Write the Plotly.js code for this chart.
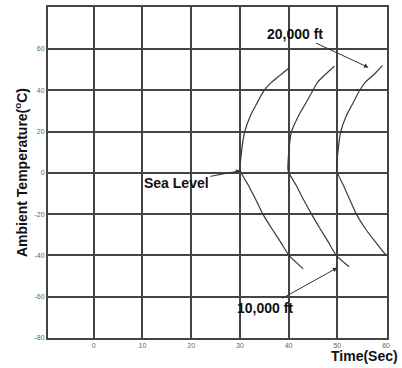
<!DOCTYPE html>
<html>
<head>
<meta charset="utf-8">
<script src="https://cdn.plot.ly/plotly-3.0.1.min.js"></script>
<style>html,body{margin:0;padding:0;background:#fff}#chart{width:402px;height:368px}</style>
</head>
<body>
<div id="chart"></div>
<script>
// Sea level curve
const seaLevelTime = [40.1, 38.2, 36.2, 35.0, 33.3, 32.2, 31.0, 30.4, 30.1, 31.8, 33.2, 34.7, 36.6, 38.4, 40.1, 43.0];
const seaLevelTemp = [50.8, 47.2, 43.2, 40, 32.8, 27.9, 20, 11.6, 1, -6.3, -12.7, -20, -27.2, -33.7, -40, -46.5];
// 10,000 ft curve
const ft10kTime = [49.4, 47.7, 46.0, 45.0, 43.3, 42.1, 40.6, 40.1, 39.9, 41.6, 43.0, 44.7, 46.5, 48.2, 49.8, 52.4];
const ft10kTemp = [51.6, 48, 44, 40, 32.8, 27.9, 20, 11.6, 1, -6.3, -12.7, -20, -27.2, -33.7, -40, -45.5];
// 20,000 ft curve
const ft20kTime = [59.3, 57.7, 55.8, 54.6, 53.0, 51.9, 50.7, 50.2, 49.9, 51.3, 52.5, 53.9, 55.8, 57.9, 60.1, 60.9];
const ft20kTemp = [52, 48, 44, 40, 32.8, 27.9, 20, 11.6, 1, -6.3, -12.7, -20, -27.2, -33.7, -40, -41];

const xTicks = [0, 10, 20, 30, 40, 50, 60];
const yTicks = [-80, -60, -40, -20, 0, 20, 40, 60];

const lineStyle = {color: '#3a3a3a', width: 1.2, shape: 'spline', smoothing: 0.6};
const traces = [
  {x: seaLevelTime, y: seaLevelTemp, mode: 'lines', line: lineStyle, name: 'Sea Level', hoverinfo: 'skip'},
  {x: ft10kTime, y: ft10kTemp, mode: 'lines', line: lineStyle, name: '10,000 ft', hoverinfo: 'skip'},
  {x: ft20kTime, y: ft20kTemp, mode: 'lines', line: lineStyle, name: '20,000 ft', hoverinfo: 'skip'}
];

const labelFont = {family: 'Liberation Sans, Arial, sans-serif', size: 14, color: '#111'};
const arrowBase = {showarrow: true, arrowhead: 2, arrowsize: 0.9, arrowwidth: 1, arrowcolor: '#333', xref: 'x', yref: 'y', font: labelFont};

const layout = {
  width: 402, height: 368,
  margin: {l: 48, r: 15, t: 7, b: 30},
  paper_bgcolor: '#fff', plot_bgcolor: '#fff',
  showlegend: false,
  font: {family: 'Liberation Sans, Arial, sans-serif'},
  xaxis: {
    range: [-9.4, 60.2],
    tickvals: xTicks, ticktext: xTicks.map(String),
    showgrid: true, gridcolor: '#444', gridwidth: 2,
    zeroline: false,
    showline: true, mirror: true, linecolor: '#444', linewidth: 2,
    ticks: '', tickfont: {size: 7, color: '#666'},
    fixedrange: true
  },
  yaxis: {
    range: [-80, 80.3],
    tickvals: yTicks, ticktext: yTicks.map(String),
    showgrid: true, gridcolor: '#444', gridwidth: 2,
    zeroline: false,
    showline: true, mirror: true, linecolor: '#444', linewidth: 2,
    ticks: '', tickfont: {size: 7, color: '#666'},
    title: {text: '<b>Ambient Temperature(<sup>o</sup>C)</b>', font: {size: 14, color: '#111'}, standoff: 4},
    fixedrange: true
  },
  annotations: [
    Object.assign({}, arrowBase, {x: 30.1, y: 1, ax: -64, ay: 12, text: '<b>Sea Level</b>'}),
    Object.assign({}, arrowBase, {x: 56.4, y: 51, ax: -73, ay: -34, text: '<b>20,000 ft</b>'}),
    Object.assign({}, arrowBase, {x: 50, y: -46, ax: -72, ay: 40, text: '<b>10,000 ft</b>'}),
    {xref: 'paper', yref: 'paper', x: 0.935, y: -0.054, xanchor: 'center', yanchor: 'middle',
     showarrow: false, text: '<b>Time(Sec)</b>', font: {family: 'Liberation Sans, Arial, sans-serif', size: 14, color: '#111'}}
  ]
};

Plotly.newPlot('chart', traces, layout, {displayModeBar: false, staticPlot: true});
</script>
</body>
</html>
